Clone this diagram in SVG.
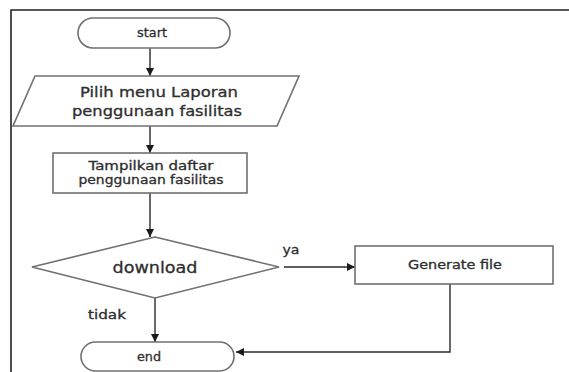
<svg xmlns="http://www.w3.org/2000/svg" width="569" height="372" viewBox="0 0 569 372">
  <style>
    .shape { fill: #ffffff; stroke: #707070; stroke-width: 1.6; }
    .conn { fill: none; stroke: #2a2a2a; stroke-width: 1.4; }
    .frame { fill: none; stroke: #222222; stroke-width: 1.6; }
    text { font-family: "DejaVu Sans", "Open Sans", sans-serif; fill: #2e2e2e; stroke: #2e2e2e; stroke-width: 0.3; text-anchor: middle; dominant-baseline: central; }
  </style>
  <defs>
    <marker id="arrow" viewBox="0 0 10 10" refX="10" refY="5" markerWidth="8" markerHeight="8" markerUnits="userSpaceOnUse" orient="auto">
      <path d="M0,0 L10,5 L0,10 z" fill="#1a1a1a"/>
    </marker>
  </defs>

  <!-- page frame -->
  <path class="frame" d="M11,372 L11,10 L569,10"/>

  <g id="connectors">
    <path class="conn" d="M150,48 L150,76" marker-end="url(#arrow)"/>
    <path class="conn" d="M150,126 L150,153" marker-end="url(#arrow)"/>
    <path class="conn" d="M150,193 L150,237" marker-end="url(#arrow)"/>
    <path class="conn" d="M284,267 L355,267" marker-end="url(#arrow)"/>
    <path class="conn" d="M155,298 L155,342" marker-end="url(#arrow)"/>
    <path class="conn" d="M450,284 L450,352 L236,352" marker-end="url(#arrow)"/>
    <text x="291" y="250" font-size="12" textLength="17" lengthAdjust="spacingAndGlyphs">ya</text>
    <text x="107" y="315" font-size="12" textLength="38" lengthAdjust="spacingAndGlyphs">tidak</text>
  </g>

  <g id="start">
    <rect class="shape" x="78" y="18" width="152" height="30" rx="15" ry="15"/>
    <text x="152" y="33" font-size="12" textLength="30" lengthAdjust="spacingAndGlyphs">start</text>
  </g>

  <g id="pilih-menu">
    <polygon class="shape" points="35,76 299,76 277,126 13,126"/>
    <text x="159" y="92" font-size="14.5" textLength="158" lengthAdjust="spacingAndGlyphs">Pilih menu Laporan</text>
    <text x="157" y="111" font-size="14.5" textLength="170" lengthAdjust="spacingAndGlyphs">penggunaan fasilitas</text>
  </g>

  <g id="tampilkan">
    <rect class="shape" x="53" y="153" width="194" height="40"/>
    <text x="151" y="165.5" font-size="11.5" textLength="125" lengthAdjust="spacingAndGlyphs">Tampilkan daftar</text>
    <text x="151" y="180" font-size="11.5" textLength="145" lengthAdjust="spacingAndGlyphs">penggunaan fasilitas</text>
  </g>

  <g id="download">
    <polygon class="shape" points="155,237 279,267 155,298 32,267"/>
    <text x="155" y="267" font-size="16" textLength="85" lengthAdjust="spacingAndGlyphs">download</text>
  </g>

  <g id="generate">
    <rect class="shape" x="355" y="246" width="198" height="38"/>
    <text x="455" y="265" font-size="11.5" textLength="94" lengthAdjust="spacingAndGlyphs">Generate file</text>
  </g>

  <g id="end">
    <rect class="shape" x="81" y="342" width="153" height="29" rx="14.5" ry="14.5"/>
    <text x="149" y="357" font-size="12" textLength="24" lengthAdjust="spacingAndGlyphs">end</text>
  </g>
</svg>
